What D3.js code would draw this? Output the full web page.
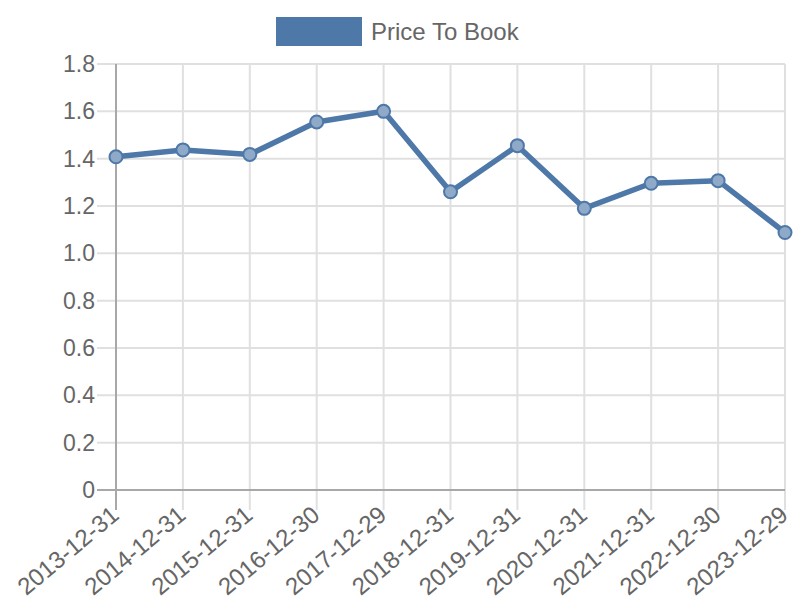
<!DOCTYPE html>
<html><head><meta charset="utf-8">
<script src="https://cdn.jsdelivr.net/npm/d3@7"></script>
<style>body{margin:0;background:#fff}svg{display:block}text{font-family:"Liberation Sans",Arial,sans-serif}</style>
</head><body><svg id="c" width="800" height="600"></svg>
<script>
const categories = ["2013-12-31","2014-12-31","2015-12-31","2016-12-30","2017-12-29","2018-12-31","2019-12-31","2020-12-31","2021-12-31","2022-12-30","2023-12-29"];
const priceToBook = [1.408,1.437,1.418,1.555,1.600,1.260,1.455,1.190,1.296,1.307,1.088];
const yTicks = [0,0.2,0.4,0.6,0.8,1.0,1.2,1.4,1.6,1.8];
const seriesName = "Price To Book";

const svg = d3.select("#c");
const pLeft = 116, pRight = 785, pTop = 64, pBottom = 490;
const x = d3.scalePoint().domain(categories).range([pLeft, pRight]);
const y = d3.scaleLinear().domain([0, 1.8]).range([pBottom, pTop]);
const blue = "#4e78a8";
const gridC = "#e0e0e0", axisC = "#a8a8a8", textC = "#666";

// horizontal grid
svg.append("g").selectAll("line").data(yTicks).join("line")
  .attr("x1", pLeft - 19).attr("x2", pRight)
  .attr("y1", d => y(d)).attr("y2", d => y(d))
  .attr("stroke", d => d === 0 ? axisC : gridC).attr("stroke-width", 2);
// vertical grid
svg.append("g").selectAll("line").data(categories).join("line")
  .attr("x1", d => x(d)).attr("x2", d => x(d))
  .attr("y1", pTop).attr("y2", pBottom + 20)
  .attr("stroke", (d,i) => i === 0 ? axisC : gridC).attr("stroke-width", 2);
// axis lines
svg.append("line").attr("x1", pLeft).attr("x2", pLeft).attr("y1", pTop).attr("y2", pBottom)
  .attr("stroke", axisC).attr("stroke-width", 2);
svg.append("line").attr("x1", pLeft).attr("x2", pRight).attr("y1", pBottom).attr("y2", pBottom)
  .attr("stroke", axisC).attr("stroke-width", 2);

// y labels
svg.append("g").selectAll("text").data(yTicks).join("text")
  .attr("x", 95).attr("y", d => y(d)).attr("dy", "0.35em")
  .attr("text-anchor", "end").attr("font-size", 23).attr("fill", textC)
  .text(d => d === 0 ? "0" : d.toFixed(1));
// x labels
svg.append("g").selectAll("text").data(categories).join("text")
  .attr("transform", d => `translate(${x(d)-1},${pBottom + 21}) rotate(-40)`)
  .attr("text-anchor", "end").attr("dy", "0.35em")
  .attr("font-size", 24).attr("fill", textC).text(d => d);

// line
const line = d3.line().x((d,i) => x(categories[i])).y(d => y(d));
svg.append("path").datum(priceToBook).attr("d", line)
  .attr("fill", "none").attr("stroke", blue).attr("stroke-width", 5.5).attr("stroke-linejoin", "round");
svg.append("g").selectAll("circle").data(priceToBook).join("circle")
  .attr("cx", (d,i) => x(categories[i])).attr("cy", d => y(d)).attr("r", 6.5)
  .attr("fill", "#8fa9c8").attr("stroke", blue).attr("stroke-width", 2);

// legend
svg.append("rect").attr("x", 276).attr("y", 17).attr("width", 86).attr("height", 29).attr("fill", blue);
svg.append("text").attr("x", 371).attr("y", 32).attr("dy", "0.35em")
  .attr("font-size", 24).attr("fill", textC).text(seriesName);
</script></body></html>
